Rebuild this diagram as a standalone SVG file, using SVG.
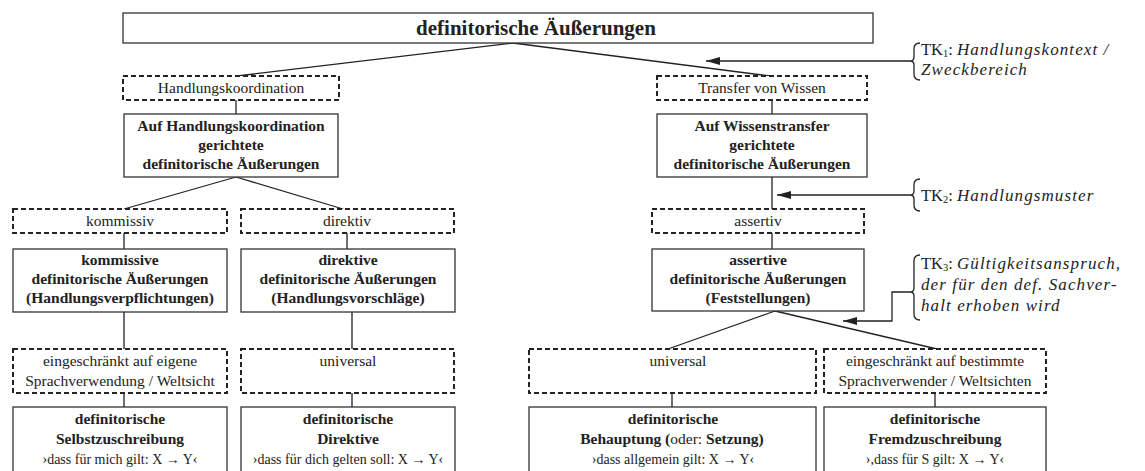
<svg xmlns="http://www.w3.org/2000/svg" width="1145" height="471" viewBox="0 0 1145 471" font-family="'Liberation Serif', serif">
<defs>
<style>
.box{fill:#fff;stroke:#333;stroke-width:1.3}
.dash{fill:#fff;stroke:#222;stroke-width:2;stroke-dasharray:5 3}
.c{fill:none;stroke:#222;stroke-width:1.3}
text{font-family:'Liberation Serif', serif}
.t{font-size:15.5px;fill:#222;text-anchor:middle}
.b{font-weight:bold}
.s{font-size:14px}
.ann{text-anchor:start;font-size:16.5px}
.it{font-style:italic;font-size:17px;letter-spacing:1.1px}
.sub{font-size:10.5px}
</style>
<marker id="ah" viewBox="0 0 14 8" refX="14" refY="4" markerWidth="14" markerHeight="8" markerUnits="userSpaceOnUse" orient="auto-start-reverse">
<path d="M0,0 L14,4 L0,8 z" fill="#222"/>
</marker>
</defs>
<rect width="1145" height="471" fill="#fff"/>

<g id="connectors">
<path class="c" d="M513,43 L237,76 M513,43 L770,76"/>
<path class="c" d="M236,100 V114"/>
<path class="c" d="M236,177 L124,209 M236,177 L343,209"/>
<path class="c" d="M124,233 V249 M347,233 V249"/>
<path class="c" d="M124,312 V349 M352,312 V349"/>
<path class="c" d="M124,393 V407 M352,393 V407"/>
<path class="c" d="M772,100 V114"/>
<path class="c" d="M772,177 V209"/>
<path class="c" d="M772,233 V249"/>
<path class="c" d="M775,311 L668,349 M775,311 L937,349"/>
<path class="c" d="M672,393 V407 M935,393 V407"/>
<path class="c" d="M910,61 H706" marker-end="url(#ah)"/>
<path class="c" d="M910,195 H777" marker-end="url(#ah)"/>
<path class="c" d="M910,292 H892 V321 H843" marker-end="url(#ah)"/>
</g>

<g id="title">
<rect class="box" x="123" y="13" width="750" height="30"/>
<text class="t b" x="536" y="35" style="font-size:21px">definitorische Äußerungen</text>
</g>

<g id="n-handlungskoordination">
<rect class="dash" x="123" y="76" width="216" height="24"/>
<text class="t" x="231" y="93">Handlungskoordination</text>
</g>
<g id="n-auf-hk">
<rect class="box" x="124" y="114" width="214" height="63"/>
<text class="t b" x="231" y="131">Auf Handlungskoordination</text>
<text class="t b" x="231" y="150">gerichtete</text>
<text class="t b" x="231" y="169">definitorische Äußerungen</text>
</g>
<g id="n-kommissiv">
<rect class="dash" x="13" y="209" width="214" height="24"/>
<text class="t" x="120" y="226">kommissiv</text>
</g>
<g id="n-direktiv">
<rect class="dash" x="241" y="209" width="213" height="24"/>
<text class="t" x="347" y="226">direktiv</text>
</g>
<g id="n-kommissive">
<rect class="box" x="13" y="249" width="214" height="63"/>
<text class="t b" x="120" y="265">kommissive</text>
<text class="t b" x="120" y="284">definitorische Äußerungen</text>
<text class="t b" x="120" y="303">(Handlungsverpflichtungen)</text>
</g>
<g id="n-direktive">
<rect class="box" x="241" y="249" width="214" height="63"/>
<text class="t b" x="348" y="265">direktive</text>
<text class="t b" x="348" y="284">definitorische Äußerungen</text>
<text class="t b" x="348" y="303">(Handlungsvorschläge)</text>
</g>
<g id="n-eingeschraenkt-eigene">
<rect class="dash" x="13" y="349" width="214" height="44"/>
<text class="t" x="120" y="366">eingeschränkt auf eigene</text>
<text class="t" x="120" y="386">Sprachverwendung / Weltsicht</text>
</g>
<g id="n-universal-1">
<rect class="dash" x="241" y="349" width="213" height="44"/>
<text class="t" x="348" y="366">universal</text>
</g>
<g id="n-selbstzuschreibung">
<rect class="box" x="13" y="407" width="214" height="80"/>
<text class="t b" x="120" y="424">definitorische</text>
<text class="t b" x="120" y="444">Selbstzuschreibung</text>
<text class="t s" x="120" y="464">›dass für mich gilt: X → Y‹</text>
</g>
<g id="n-direktive-def">
<rect class="box" x="241" y="407" width="214" height="80"/>
<text class="t b" x="348" y="424">definitorische</text>
<text class="t b" x="348" y="444">Direktive</text>
<text class="t s" x="348" y="464">›dass für dich gelten soll: X → Y‹</text>
</g>

<g id="n-transfer">
<rect class="dash" x="657" y="76" width="210" height="24"/>
<text class="t" x="762" y="93">Transfer von Wissen</text>
</g>
<g id="n-auf-wt">
<rect class="box" x="657" y="114" width="210" height="63"/>
<text class="t b" x="762" y="131">Auf Wissenstransfer</text>
<text class="t b" x="762" y="150">gerichtete</text>
<text class="t b" x="762" y="169">definitorische Äußerungen</text>
</g>
<g id="n-assertiv">
<rect class="dash" x="652" y="209" width="212" height="24"/>
<text class="t" x="758" y="226">assertiv</text>
</g>
<g id="n-assertive">
<rect class="box" x="652" y="249" width="212" height="62"/>
<text class="t b" x="758" y="265">assertive</text>
<text class="t b" x="758" y="284">definitorische Äußerungen</text>
<text class="t b" x="758" y="303">(Feststellungen)</text>
</g>
<g id="n-universal-2">
<rect class="dash" x="529" y="349" width="287" height="44"/>
<text class="t" x="678" y="366">universal</text>
</g>
<g id="n-eingeschraenkt-bestimmte">
<rect class="dash" x="824" y="349" width="222" height="44"/>
<text class="t" x="935" y="366">eingeschränkt auf bestimmte</text>
<text class="t" x="935" y="386">Sprachverwender / Weltsichten</text>
</g>
<g id="n-behauptung">
<rect class="box" x="529" y="407" width="287" height="80"/>
<text class="t b" x="673" y="424">definitorische</text>
<text class="t" x="672" y="444"><tspan class="b">Behauptung (</tspan>oder: <tspan class="b">Setzung)</tspan></text>
<text class="t s" x="673" y="464">›dass allgemein gilt: X → Y‹</text>
</g>
<g id="n-fremdzuschreibung">
<rect class="box" x="824" y="407" width="222" height="80"/>
<text class="t b" x="935" y="424">definitorische</text>
<text class="t b" x="935" y="444">Fremdzuschreibung</text>
<text class="t s" x="935" y="464">›,dass für S gilt: X → Y‹</text>
</g>

<g id="tk1">
<path class="c" d="M920,43 Q914,43 914,49 V57 Q914,61 910,61 Q914,61 914,65 V74 Q914,80 920,80"/>
<text class="t ann" x="921" y="55">TK<tspan class="sub" dy="2">1</tspan><tspan dy="-2">: </tspan><tspan class="it">Handlungskontext /</tspan></text>
<text class="t ann it" x="921" y="75">Zweckbereich</text>
</g>
<g id="tk2">
<path class="c" d="M920,179 Q914,179 914,185 V191 Q914,195 910,195 Q914,195 914,199 V205 Q914,211 920,211"/>
<text class="t ann" x="921" y="201">TK<tspan class="sub" dy="2">2</tspan><tspan dy="-2">: </tspan><tspan class="it">Handlungsmuster</tspan></text>
</g>
<g id="tk3">
<path class="c" d="M920,255 Q914,255 914,261 V288 Q914,292 910,292 Q914,292 914,296 V314 Q914,320 920,320"/>
<text class="t ann" x="921" y="269">TK<tspan class="sub" dy="2">3</tspan><tspan dy="-2">: </tspan><tspan class="it">Gültigkeitsanspruch,</tspan></text>
<text class="t ann it" x="921" y="290">der für den def. Sachver-</text>
<text class="t ann it" x="921" y="311">halt erhoben wird</text>
</g>
</svg>
